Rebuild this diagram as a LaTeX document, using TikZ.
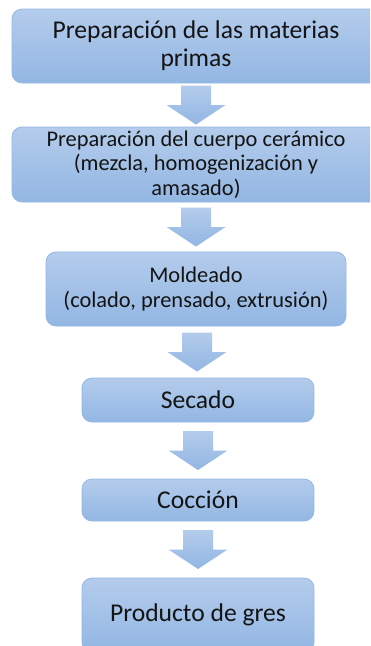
\documentclass[tikz,border=0pt]{standalone}
\usepackage{fontspec}
\setmainfont{Carlito}
\usetikzlibrary{calc}
\definecolor{cajaarriba}{RGB}{180,204,236}
\definecolor{cajaabajo}{RGB}{146,182,227}
\definecolor{cajaborde}{RGB}{150,184,228}
\definecolor{texto}{RGB}{20,20,20}

\begin{document}
\begin{tikzpicture}[x=1pt,y=1pt,
            caja/.style={draw=cajaborde, line width=0.8pt, rounded corners=10pt,
              top color=cajaarriba, bottom color=cajaabajo,
              align=center, text=texto, inner sep=0pt},
            grande/.style={font=\fontsize{25.6}{28}\selectfont},
            chica/.style={font=\fontsize{22.4}{24.5}\selectfont},
            flecha/.style={top color=cajaarriba, bottom color=cajaabajo}]
              \clip (0,0) rectangle (370,-646);
              \fill[white] (0,0) rectangle (370,-646);
              \node[caja, grande, minimum width=368, minimum height=74] (b1) at (196,-46)
                {Preparación de las materias\\primas};
              \node[caja, chica, minimum width=368, minimum height=75] (b2) at (196,-164.5)
                {Preparación del cuerpo cerámico\\(mezcla, homogenización y\\amasado)};
              \node[caja, chica, minimum width=300, minimum height=74] (b3) at (196,-289)
                {Moldeado\\(colado, prensado, extrusión)};
              \node[caja, grande, minimum width=232, minimum height=44] (b4) at (198,-400) {Secado};
              \node[caja, grande, minimum width=232, minimum height=42] (b5) at (198,-500) {Cocción};
              \node[caja, grande, minimum width=232, minimum height=74] (b6) at (198,-615) {Producto de gres};
              % flechas entre las etapas
              \foreach \a/\b in {b1/b2,b2/b3,b3/b4,b4/b5,b5/b6}{
                \path (\a.south) -- (\b.north) coordinate[pos=.5] (m);
                \path[flecha] ($(m)+(-15,19.5)$) -- ($(m)+(15,19.5)$) -- ($(m)+(15,0)$)
                  -- ($(m)+(29.5,0)$) -- ($(m)+(0,-19.5)$) -- ($(m)+(-29.5,0)$)
                  -- ($(m)+(-15,0)$) -- cycle;
              }
        \end{tikzpicture}
\end{document}
